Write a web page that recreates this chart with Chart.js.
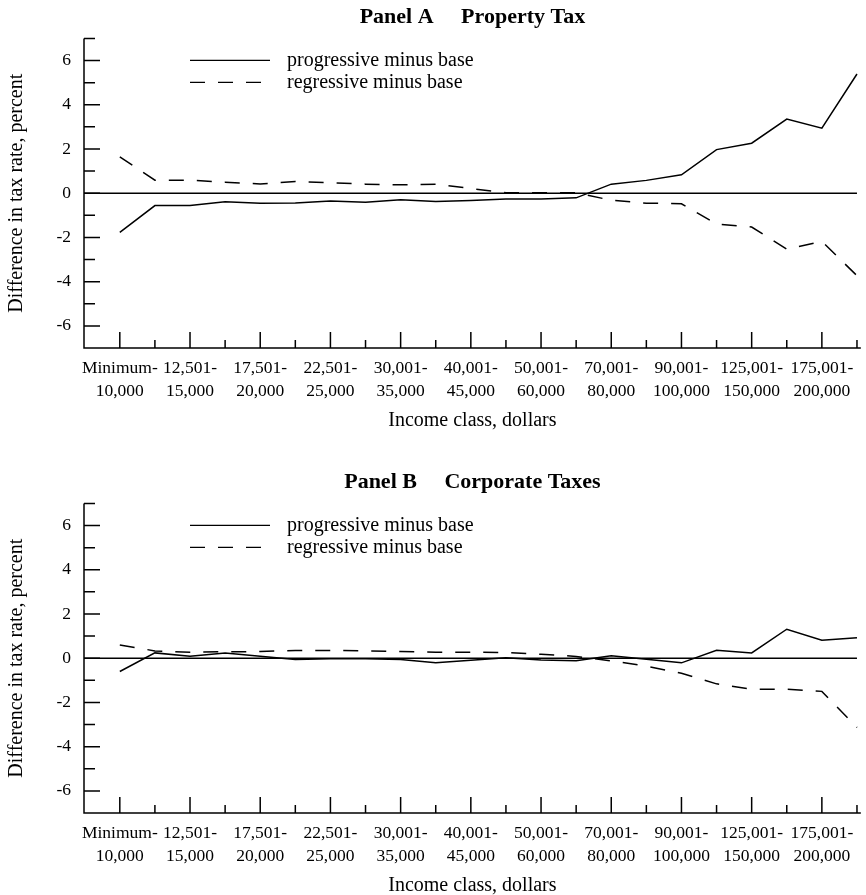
<!DOCTYPE html>
<html lang="en">
<head>
    <meta charset="UTF-8">
    <meta name="viewport" content="width=device-width, initial-scale=1.0">
    <title>Difference in Tax Rate by Income Class</title>
    <script src="https://cdn.jsdelivr.net/npm/chart.js"></script>
    <style>
        body {
            margin: 0;
            background: #fff;
        }
        .panel {
            position: absolute;
            left: 0;
            width: 866px;
            height: 440px;
        }
        #panelA { top: 0; }
        #panelB { top: 465px; }
    </style>
</head>
<body>
    <div class="panel" id="panelA"><canvas id="chartA"></canvas></div>
    <div class="panel" id="panelB"><canvas id="chartB"></canvas></div>

    <script>
        // income classes, only every other one is labelled on the axis
        const incomeClasses = [
            ['Minimum-', '10,000'], '',
            ['12,501-', '15,000'], '',
            ['17,501-', '20,000'], '',
            ['22,501-', '25,000'], '',
            ['30,001-', '35,000'], '',
            ['40,001-', '45,000'], '',
            ['50,001-', '60,000'], '',
            ['70,001-', '80,000'], '',
            ['90,001-', '100,000'], '',
            ['125,001-', '150,000'], '',
            ['175,001-', '200,000'], ''
        ];
        const yTickValues = [-7, -6, -5, -4, -3, -2, -1, 0, 1, 2, 3, 4, 5, 6, 7];
        const seriesNames = ['progressive minus base', 'regressive minus base'];

        // Panel A - property tax
        const propertyProgressive = [-1.77, -0.56, -0.56, -0.39, -0.45, -0.44, -0.35, -0.41, -0.30, -0.38, -0.33,
            -0.26, -0.26, -0.21, 0.41, 0.58, 0.83, 1.97, 2.26, 3.35, 2.94, 5.39];
        const propertyRegressive = [1.64, 0.59, 0.59, 0.50, 0.42, 0.53, 0.47, 0.41, 0.38, 0.41, 0.21,
            0.02, 0.02, 0.02, -0.32, -0.45, -0.48, -1.39, -1.53, -2.53, -2.18, -3.73];

        // Panel B - corporate taxes
        const corporateProgressive = [-0.60, 0.24, 0.09, 0.24, 0.09, -0.06, -0.03, -0.02, -0.06, -0.21, -0.09,
            0.02, -0.08, -0.11, 0.11, -0.05, -0.21, 0.36, 0.24, 1.31, 0.81, 0.93];
        const corporateRegressive = [0.60, 0.33, 0.27, 0.29, 0.30, 0.35, 0.35, 0.33, 0.30, 0.27, 0.27,
            0.26, 0.18, 0.08, -0.12, -0.36, -0.68, -1.16, -1.41, -1.40, -1.50, -3.13];

        Chart.defaults.font.family = "'Liberation Serif', 'Times New Roman', serif";
        Chart.defaults.color = '#000';

        // axis lines, inward tick marks, zero line and the legend inside the plot
        const frameAndLegend = {
            id: 'frameAndLegend',
            afterDatasetsDraw(chart) {
                const ctx = chart.ctx;
                const area = chart.chartArea;
                const x = chart.scales.x;
                const y = chart.scales.y;
                ctx.save();
                ctx.strokeStyle = '#000';
                ctx.lineWidth = 1.5;
                ctx.setLineDash([]);
                ctx.beginPath();
                ctx.moveTo(area.left, area.top);
                ctx.lineTo(area.left, area.bottom);
                ctx.lineTo(area.right, area.bottom);
                yTickValues.forEach(v => {
                    if (v === -7) return;
                    const py = y.getPixelForValue(v);
                    ctx.moveTo(area.left, py);
                    ctx.lineTo(area.left + (v % 2 === 0 ? 16 : 11), py);
                });
                incomeClasses.forEach((c, i) => {
                    const px = x.getPixelForValue(i);
                    ctx.moveTo(px, area.bottom);
                    ctx.lineTo(px, area.bottom - (i % 2 === 0 ? 16 : 8));
                });
                ctx.stroke();

                ctx.lineWidth = 1.4;
                const zy = y.getPixelForValue(0);
                ctx.beginPath();
                ctx.moveTo(area.left, zy);
                ctx.lineTo(x.getPixelForValue(incomeClasses.length - 1), zy);
                ctx.stroke();

                ctx.font = "20px 'Liberation Serif', 'Times New Roman', serif";
                ctx.fillStyle = '#000';
                ctx.textBaseline = 'middle';
                chart.data.datasets.forEach((ds, i) => {
                    const ly = area.top + 22 + i * 22;
                    ctx.setLineDash(ds.borderDash || []);
                    ctx.beginPath();
                    ctx.moveTo(area.left + 106, ly);
                    ctx.lineTo(area.left + 186, ly);
                    ctx.stroke();
                    ctx.fillText(ds.label, area.left + 203, ly);
                });
                ctx.restore();
            }
        };

        function makePanel(canvasId, titleText, progressive, regressive) {
            new Chart(document.getElementById(canvasId), {
                type: 'line',
                data: {
                    datasets: [{
                        label: seriesNames[0],
                        data: progressive.map((v, i) => ({ x: i, y: v })),
                        borderColor: '#000',
                        borderWidth: 1.5,
                        pointRadius: 0,
                        tension: 0
                    }, {
                        label: seriesNames[1],
                        data: regressive.map((v, i) => ({ x: i, y: v })),
                        borderColor: '#000',
                        borderWidth: 1.5,
                        borderDash: [15, 13],
                        pointRadius: 0,
                        tension: 0
                    }]
                },
                options: {
                    responsive: true,
                    maintainAspectRatio: false,
                    animation: false,
                    layout: { padding: 0 },
                    plugins: {
                        legend: { display: false },
                        tooltip: { enabled: false },
                        title: {
                            display: true,
                            text: titleText,
                            fullSize: false,
                            color: '#000',
                            font: { size: 22, weight: 'bold' },
                            padding: { top: 4, bottom: 8 }
                        }
                    },
                    scales: {
                        x: {
                            type: 'linear',
                            min: -1.02,
                            max: 21.11,
                            grid: { display: false, drawTicks: false },
                            border: { display: false },
                            afterBuildTicks: s => { s.ticks = incomeClasses.map((c, i) => ({ value: i })); },
                            afterFit: s => { s.height = 92; },
                            ticks: {
                                autoSkip: false,
                                maxRotation: 0,
                                minRotation: 0,
                                padding: 9,
                                color: '#000',
                                font: { size: 17.5, lineHeight: 1.3 },
                                callback: v => incomeClasses[v]
                            },
                            title: {
                                display: true,
                                text: 'Income class, dollars',
                                color: '#000',
                                font: { size: 20 },
                                padding: { top: 0, bottom: 7 }
                            }
                        },
                        y: {
                            min: -7,
                            max: 7,
                            grid: { display: false, drawTicks: false },
                            border: { display: false },
                            afterBuildTicks: s => { s.ticks = yTickValues.map(v => ({ value: v })); },
                            afterFit: s => { s.width = 84; },
                            ticks: {
                                autoSkip: false,
                                padding: 13,
                                color: '#000',
                                font: { size: 17.5 },
                                callback: v => (v % 2 === 0 ? String(v) : '')
                            },
                            title: {
                                display: true,
                                text: 'Difference in tax rate, percent',
                                color: '#000',
                                font: { size: 20 },
                                padding: { top: 5, bottom: 0 }
                            }
                        }
                    }
                },
                plugins: [frameAndLegend]
            });
        }

        makePanel('chartA', 'Panel A     Property Tax', propertyProgressive, propertyRegressive);
        makePanel('chartB', 'Panel B     Corporate Taxes', corporateProgressive, corporateRegressive);
    </script>
</body>
</html>
